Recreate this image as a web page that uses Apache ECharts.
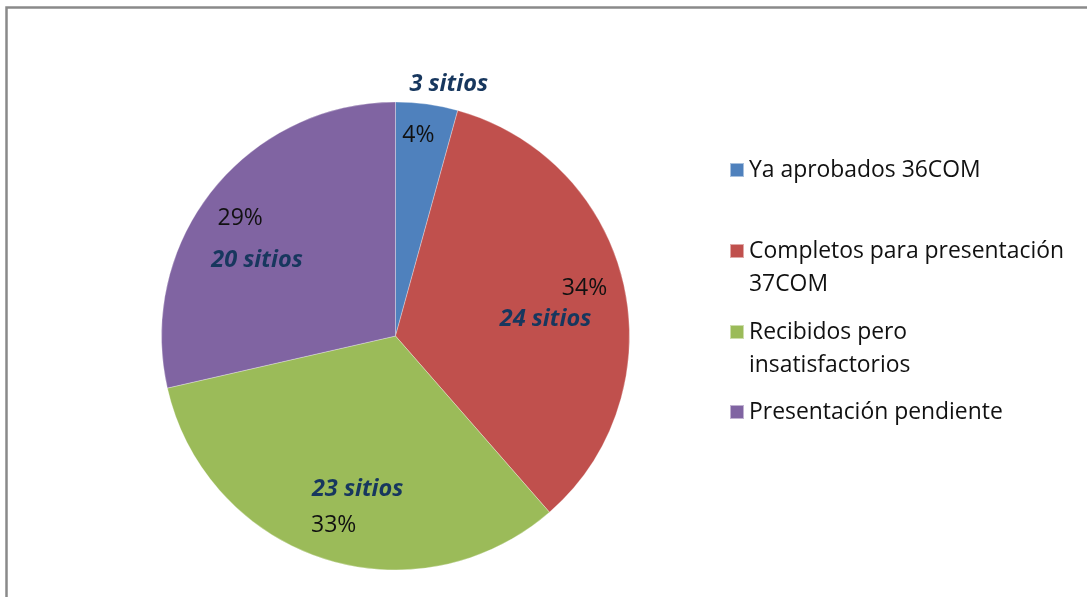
<!DOCTYPE html>
<html>
<head>
<meta charset="utf-8">
<script src="https://cdn.jsdelivr.net/npm/echarts@6/dist/echarts.min.js"></script>
<style>
html,body{margin:0;padding:0;background:#fff;}
#chart{width:1087px;height:597px;}
</style>
</head>
<body>
<div id="chart"></div>
<script>
// Data
const categories = ['Ya aprobados 36COM', 'Completos para presentación 37COM', 'Recibidos pero insatisfactorios', 'Presentación pendiente'];
const legendLabels = ['Ya aprobados 36COM', 'Completos para presentación\n37COM', 'Recibidos pero\ninsatisfactorios', 'Presentación pendiente'];
const sitios = [3, 24, 23, 20];
const colors = ['#4F81BD', '#C0504D', '#9BBB59', '#8064A2'];

// label fine-tuning offsets (pixels)
const pctOffsets = [[-4, -2], [-6, -3], [0, -1], [1, 7]];
const sitOffsets = [[32, -95], [-4, 18], [11, 3], [-15, 23]];

const FONT = 'Open Sans';
const chart = echarts.init(document.getElementById('chart'));
const pieData = categories.map((c, i) => ({ name: c, value: sitios[i] }));
const CENTER = [395.5, 336];
const R = 234;

// legend item icon centre y (first text line)
const legendIconY = [170, 251, 332, 412];
const LH = 33;
const legends = categories.map((c, i) => {
  const twoLine = legendLabels[i].indexOf('\n') >= 0;
  const boxH = twoLine ? 3 * LH : LH;
  return {
    orient: 'vertical',
    left: 729,
    top: legendIconY[i] - boxH / 2,
    padding: 0,
    itemWidth: 14,
    itemHeight: 14,
    icon: 'rect',
    selectedMode: false,
    data: [c],
    formatter: () => (twoLine ? ' \n' : '') + legendLabels[i],
    textStyle: {
      fontFamily: FONT,
      fontSize: 22.9,
      color: '#111',
      lineHeight: LH
    }
  };
});

const option = {
  animation: false,
  color: colors,
  graphic: [{
    type: 'rect',
    shape: { x: 6.5, y: 7.5, width: 1200, height: 700 },
    style: { fill: 'none', stroke: '#8a8a8a', lineWidth: 2.5 },
    silent: true
  }],
  legend: legends,
  series: [
    {
      type: 'pie',
      name: 'main',
      center: CENTER,
      radius: [0, R],
      startAngle: 90,
      clockwise: true,
      data: pieData,
      label: { show: false },
      labelLine: { show: false },
      itemStyle: { borderColor: 'rgba(255,255,255,0.5)', borderWidth: 0.6 },
      emphasis: { disabled: true },
      silent: true
    },
    {
      type: 'pie',
      name: 'pct',
      center: CENTER,
      radius: [160, R],
      startAngle: 90,
      clockwise: true,
      percentPrecision: 0,
      data: pieData,
      itemStyle: { color: 'rgba(0,0,0,0)' },
      label: {
        show: true,
        position: 'inside',
        formatter: '{d}%',
        fontFamily: FONT,
        fontSize: 23,
        color: '#111'
      },
      labelLine: { show: false },
      labelLayout: (p) => ({ dx: pctOffsets[p.dataIndex][0], dy: pctOffsets[p.dataIndex][1] }),
      emphasis: { disabled: true },
      silent: true
    },
    {
      type: 'pie',
      name: 'sitios',
      center: CENTER,
      radius: [76, R],
      startAngle: 90,
      clockwise: true,
      data: pieData,
      itemStyle: { color: 'rgba(0,0,0,0)' },
      label: {
        show: true,
        position: 'inside',
        formatter: '{c} sitios',
        fontFamily: FONT,
        fontSize: 23.5,
        fontWeight: 'bold',
        fontStyle: 'italic',
        color: '#17375E'
      },
      labelLine: { show: false },
      labelLayout: (p) => ({ dx: sitOffsets[p.dataIndex][0], dy: sitOffsets[p.dataIndex][1] }),
      emphasis: { disabled: true },
      silent: true
    }
  ]
};
chart.setOption(option);
</script>
</body>
</html>
